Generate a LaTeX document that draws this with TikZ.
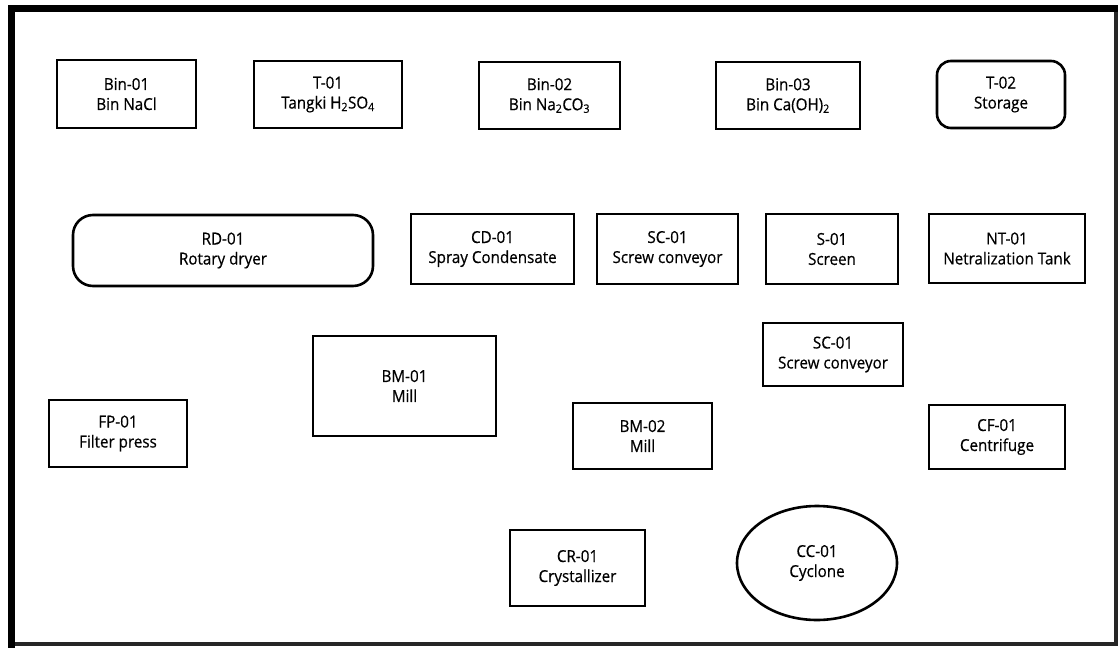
\documentclass[tikz,border=0pt]{standalone}
\usepackage{fontspec}
\setmainfont{Open Sans}[FakeStretch=0.92,FakeBold=0.5]
\usepackage{tikz}
\usetikzlibrary{shapes.geometric}
\tikzset{
  unit/.style={draw=black,line width=2.6pt,inner sep=0pt,align=center,
    font=\fontsize{16.5}{20}\selectfont},
  tank/.style={unit,rounded corners=14pt},
  cyc/.style={unit,ellipse}
}
\begin{document}
\begin{tikzpicture}[x=1pt,y=-1pt]
\useasboundingbox (0,0) rectangle (1120,648);
% frame
\draw[line width=3.5pt,black!85] (1116,8) -- (1116,644) -- (11,644);
\draw[line width=7pt] (11,647.5) -- (11,8) -- (1117.5,8);
% row 1
\node[unit,minimum width=139,minimum height=68] (bin1) at (126.5,94) {Bin-01\\Bin NaCl};
\node[unit,minimum width=148,minimum height=67] (t1) at (328,94.5) {T-01\\Tangki H\textsubscript{2}SO\textsubscript{4}};
\node[unit,minimum width=141,minimum height=67] (bin2) at (549.5,95.5) {Bin-02\\Bin Na\textsubscript{2}CO\textsubscript{3}};
\node[unit,minimum width=144,minimum height=67] (bin3) at (788,95.5) {Bin-03\\Bin Ca(OH)\textsubscript{2}};
\node[tank,minimum width=128,minimum height=67] (t2) at (1001,94.5) {T-02\\Storage};
% row 2
\node[tank,rounded corners=20pt,minimum width=300,minimum height=71] (rd1) at (223,250.5) {RD-01\\Rotary dryer};
\node[unit,minimum width=163,minimum height=70] (cd1) at (492.5,249) {CD-01\\Spray Condensate};
\node[unit,minimum width=141,minimum height=70] (sc1) at (667.5,249) {SC-01\\Screw conveyor};
\node[unit,minimum width=132,minimum height=70] (s1) at (832,249) {S-01\\Screen};
\node[unit,minimum width=156,minimum height=69] (nt1) at (1007,248.5) {NT-01\\Netralization Tank};
% middle
\node[unit,minimum width=140,minimum height=63] (sc2) at (833,354.5) {SC-01\\Screw conveyor};
\node[unit,minimum width=183,minimum height=100] (bm1) at (404.5,386) {BM-01\\Mill};
\node[unit,minimum width=138,minimum height=67] (fp1) at (118,433.5) {FP-01\\Filter press};
\node[unit,minimum width=139,minimum height=66] (bm2) at (642.5,436) {BM-02\\Mill};
\node[unit,minimum width=136,minimum height=64] (cf1) at (997,437) {CF-01\\Centrifuge};
% bottom
\node[unit,minimum width=135,minimum height=76] (cr1) at (577.5,568) {CR-01\\Crystallizer};
\node[cyc,minimum width=160,minimum height=114] (cc1) at (817,563) {CC-01\\Cyclone};
\end{tikzpicture}
\end{document}
